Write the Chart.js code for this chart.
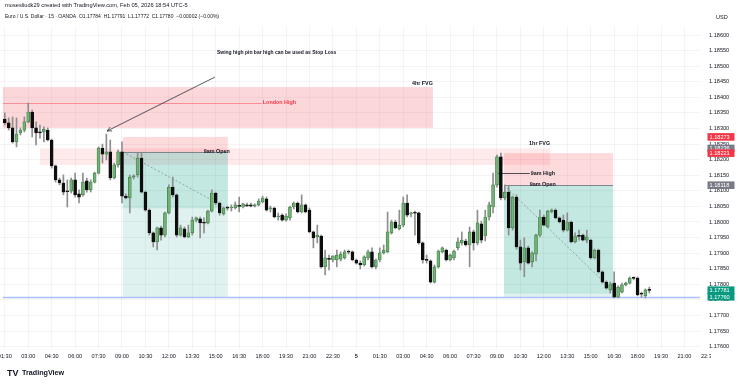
<!DOCTYPE html>
<html>
<head>
<meta charset="utf-8">
<title>EURUSD 15m</title>
<script src="https://cdn.jsdelivr.net/npm/chart.js@4.4.1/dist/chart.umd.min.js"></script>
<style>
  html, body { margin:0; padding:0; background:#fff; }
  #box { width:740px; height:386px; }
</style>
</head>
<body>
<div id="box"><canvas id="chart" width="740" height="386"></canvas></div>
<script>
/* ===== EUR/USD 15m, OANDA : Feb 04 01:30 -> Feb 05 18:45 (one entry per bar) ===== */
const OPEN = [
  1.18330,1.18318,1.18302,1.18257,1.18286,1.18295,1.18321,1.18353,1.18302,1.18289,
  1.18289,1.18295,1.18263,1.18180,1.18135,1.18125,1.18099,1.18099,1.18135,1.18090,
  1.18087,1.18132,1.18103,1.18128,1.18157,1.18237,1.18218,1.18225,1.18141,1.18183,
  1.18225,1.18083,1.18077,1.18144,1.18151,1.18205,1.18096,1.18038,1.17965,1.17936,
  1.17981,1.17958,1.18029,1.18112,1.18087,1.17958,1.17978,1.17952,1.17965,1.18006,
  1.18010,1.17997,1.17997,1.18035,1.18093,1.18061,1.18026,1.18045,1.18045,1.18045,
  1.18051,1.18048,1.18055,1.18055,1.18051,1.18055,1.18064,1.18074,1.18042,1.18045,
  1.18016,1.18022,1.18006,1.18013,1.18048,1.18061,1.18032,1.18055,1.18038,1.17968,
  1.17952,1.17955,1.17856,1.17881,1.17878,1.17878,1.17881,1.17885,1.17904,1.17904,
  1.17878,1.17868,1.17862,1.17885,1.17904,1.17856,1.17878,1.17901,1.17904,1.17965,
  1.18000,1.17978,1.17990,1.18061,1.18026,1.18029,1.18029,1.17933,1.17878,1.17875,
  1.17807,1.17856,1.17904,1.17910,1.17878,1.17885,1.17917,1.17933,1.17939,1.17926,
  1.17968,1.17933,1.17994,1.17955,1.18016,1.18048,1.18119,1.18209,1.18077,1.18096,
  1.17981,1.18080,1.17920,1.17872,1.17917,1.17872,1.17897,1.17958,1.18016,1.17984,
  1.18032,1.18038,1.18013,1.18006,1.17974,1.18000,1.17936,1.17955,1.17958,1.17942,
  1.17942,1.17885,1.17910,1.17840,1.17807,1.17782,1.17804,1.17759,1.17775,1.17798,
  1.17804,1.17820,1.17820,1.17769,1.17763,1.17784
];
const HIGH = [
  1.18350,1.18334,1.18337,1.18334,1.18302,1.18337,1.18382,1.18359,1.18321,1.18311,
  1.18305,1.18302,1.18266,1.18183,1.18141,1.18151,1.18135,1.18141,1.18157,1.18103,
  1.18157,1.18141,1.18135,1.18160,1.18241,1.18250,1.18282,1.18263,1.18189,1.18231,
  1.18257,1.18090,1.18151,1.18151,1.18221,1.18221,1.18099,1.18042,1.17968,1.17984,
  1.17987,1.18032,1.18119,1.18144,1.18090,1.17990,1.17984,1.17990,1.18016,1.18016,
  1.18016,1.18013,1.18038,1.18103,1.18096,1.18064,1.18048,1.18051,1.18055,1.18064,
  1.18080,1.18061,1.18061,1.18061,1.18058,1.18074,1.18083,1.18080,1.18051,1.18048,
  1.18029,1.18026,1.18026,1.18051,1.18064,1.18064,1.18087,1.18058,1.18045,1.17971,
  1.17990,1.17958,1.17910,1.17894,1.17891,1.17910,1.17904,1.17910,1.17910,1.17907,
  1.17881,1.17875,1.17891,1.17910,1.17917,1.17881,1.17917,1.17926,1.18032,1.18006,
  1.18006,1.18038,1.18080,1.18087,1.18032,1.18035,1.18032,1.17936,1.17894,1.17878,
  1.17862,1.17910,1.17920,1.17913,1.17897,1.17910,1.17949,1.17968,1.17945,1.17984,
  1.17974,1.18038,1.18003,1.18038,1.18064,1.18157,1.18215,1.18221,1.18119,1.18115,
  1.18083,1.18087,1.17942,1.17949,1.17923,1.17904,1.17961,1.18038,1.18022,1.18038,
  1.18042,1.18042,1.18016,1.18022,1.18029,1.18003,1.17965,1.17974,1.17961,1.17974,
  1.17945,1.17913,1.17913,1.17843,1.17811,1.17807,1.17840,1.17795,1.17804,1.17807,
  1.17824,1.17824,1.17824,1.17775,1.17785,1.17791
];
const LOW = [
  1.18311,1.18295,1.18253,1.18241,1.18279,1.18289,1.18318,1.18273,1.18247,1.18269,
  1.18257,1.18260,1.18173,1.18128,1.18119,1.18087,1.18048,1.18093,1.18080,1.18061,
  1.18083,1.18096,1.18096,1.18125,1.18154,1.18189,1.18199,1.18135,1.18138,1.18176,
  1.18061,1.18074,1.18029,1.18138,1.18144,1.18093,1.18035,1.17958,1.17920,1.17910,
  1.17942,1.17952,1.18026,1.18080,1.17952,1.17955,1.17949,1.17949,1.17958,1.18000,
  1.17949,1.17965,1.17994,1.18032,1.18055,1.18022,1.18022,1.18038,1.18035,1.18042,
  1.18032,1.18045,1.18051,1.18048,1.18048,1.18051,1.18061,1.18035,1.18032,1.18013,
  1.18006,1.18003,1.18003,1.18006,1.18042,1.18029,1.18029,1.18029,1.17965,1.17917,
  1.17933,1.17852,1.17830,1.17846,1.17872,1.17856,1.17875,1.17881,1.17897,1.17875,
  1.17865,1.17849,1.17859,1.17878,1.17852,1.17849,1.17872,1.17897,1.17901,1.17961,
  1.17978,1.17974,1.17984,1.18016,1.18016,1.17958,1.17929,1.17868,1.17868,1.17804,
  1.17804,1.17852,1.17901,1.17875,1.17875,1.17878,1.17910,1.17926,1.17923,1.17856,
  1.17910,1.17926,1.17933,1.17939,1.18006,1.18029,1.18112,1.18071,1.18071,1.17958,
  1.17974,1.17913,1.17846,1.17824,1.17865,1.17856,1.17875,1.17952,1.17987,1.17981,
  1.18029,1.18010,1.17997,1.17968,1.17971,1.17933,1.17933,1.17942,1.17939,1.17933,
  1.17881,1.17881,1.17836,1.17804,1.17785,1.17772,1.17756,1.17756,1.17772,1.17795,
  1.17801,1.17814,1.17763,1.17759,1.17756,1.17772
];
const CLOSE = [
  1.18318,1.18302,1.18257,1.18282,1.18295,1.18321,1.18353,1.18302,1.18286,1.18286,
  1.18298,1.18263,1.18180,1.18135,1.18125,1.18096,1.18097,1.18135,1.18087,1.18080,
  1.18128,1.18103,1.18128,1.18157,1.18237,1.18218,1.18225,1.18141,1.18183,1.18225,
  1.18083,1.18077,1.18144,1.18148,1.18205,1.18096,1.18038,1.17965,1.17936,1.17981,
  1.17958,1.18029,1.18112,1.18087,1.17958,1.17981,1.17952,1.17965,1.18006,1.18013,
  1.17997,1.17996,1.18035,1.18093,1.18061,1.18029,1.18045,1.18044,1.18048,1.18055,
  1.18050,1.18058,1.18051,1.18051,1.18055,1.18067,1.18077,1.18038,1.18045,1.18016,
  1.18019,1.18006,1.18019,1.18048,1.18061,1.18032,1.18055,1.18032,1.17968,1.17949,
  1.17958,1.17856,1.17885,1.17880,1.17891,1.17894,1.17897,1.17904,1.17903,1.17878,
  1.17868,1.17862,1.17888,1.17904,1.17856,1.17878,1.17901,1.17910,1.17968,1.18000,
  1.17981,1.17990,1.18061,1.18022,1.18029,1.18028,1.17933,1.17878,1.17877,1.17807,
  1.17856,1.17907,1.17917,1.17878,1.17894,1.17907,1.17936,1.17942,1.17926,1.17968,
  1.17933,1.17997,1.17942,1.18016,1.18055,1.18119,1.18209,1.18077,1.18096,1.17981,
  1.18080,1.17920,1.17868,1.17917,1.17868,1.17901,1.17958,1.18016,1.17990,1.18035,
  1.18038,1.18013,1.18000,1.17974,1.18000,1.17936,1.17955,1.17954,1.17942,1.17952,
  1.17885,1.17910,1.17840,1.17807,1.17788,1.17801,1.17759,1.17791,1.17798,1.17804,
  1.17820,1.17819,1.17766,1.17768,1.17782,1.17780
];

// time axis: one label every 6 bars (1.5 h), first label on bar 0
const TIME_LABELS = [
  "01:30","03:00","04:30","06:00","07:30","09:00","10:30","12:00","13:30","15:00",
  "16:30","18:00","19:30","21:00","22:30","5","01:30","03:00","04:30","06:00",
  "07:30","09:00","10:30","12:00","13:30","15:00","16:30","18:00","19:30","21:00","22:30"
];
const BARS_PER_LABEL = 6;
const PRICE_TICKS = [
  1.17600,1.17650,1.17700,1.17750,1.17800,1.17850,1.17900,1.17950,1.18000,1.18050,
  1.18100,1.18150,1.18200,1.18250,1.18300,1.18350,1.18400,1.18450,1.18500,1.18550,1.18600
];

/* ===== drawings (bar index / price) ===== */
const FVG_4H   = { from:-0.5, to:109.6, top:1.18433, bottom:1.18302, label:"4hr FVG" };
const FVG_1H   = { from:9.0,  to:139.6, top:1.18236, bottom:1.18183, label:"1hr FVG" };
const LONDON   = { from:-0.5, to:65.8,  price:1.18382, label:"London High" };
const NINE_HI  = { from:126,  to:134.4, price:1.18157, label:"9am High" };
const STOP_LINE = { from:-0.5, price:1.17760 };
const TRADES = [
  { from:30.2,  to:57.1,  entry:1.18225, stop:1.18273, target:1.17760, last:1.18044, dashTo:52.5,  dashPrice:1.18074, label:"9am Open", labelAt:57.6, align:"right" },
  { from:127.8, to:155.7, entry:1.18118, stop:1.18221, target:1.17760, last:1.17770, dashTo:155.5, dashPrice:1.17782, label:"9am Open", labelAt:134.4, align:"left" },
];
const NOTE = { text:"Swing high pin bar high can be used as Stop Loss", at:54.3, price:1.18545,
               arrowFrom:[53.8, 1.18465], arrowTo:[26.2, 1.18292] };
const BADGES = [
  { price:1.18273, kind:"red" }, { price:1.18236, kind:"gray" }, { price:1.18221, kind:"red" },
  { price:1.18118, kind:"gray" }, { price:1.17781, kind:"teal" }, { price:1.17760, kind:"teal" },
];

/* ===== look ===== */
const FONT = "'Liberation Sans', Arial, sans-serif";
const COL = {
  up:"#72b075", upLine:"#3d7c43", down:"#0d0d0d", wick:"#8e8e8e",
  grid:"rgba(42,46,57,0.05)", text:"#131722",
  red:"#f23645", gray:"#787b86", teal:"#089981",
};
const X_MIN = -1.23, X_MAX = 177.98;
const Y_MIN = 1.175924, Y_MAX = 1.186289;

const isUp = OPEN.map((o,i)=>CLOSE[i] >= o);
const bodies = OPEN.map((o,i)=>({ x:i, y:[o, CLOSE[i]] }));
const wicks  = LOW.map((l,i)=>({ x:i, y:[l, HIGH[i]] }));

const drawings = {
  id:"drawings",
  beforeDatasetsDraw(chart){
    const { ctx, chartArea:a, scales:{x, y} } = chart;
    const X = v=>x.getPixelForValue(v), Y = v=>y.getPixelForValue(v);
    const box = (x0,x1,p0,p1,fill)=>{ ctx.fillStyle = fill; ctx.fillRect(X(x0), Y(p0), X(x1)-X(x0), Y(p1)-Y(p0)); };
    const hline = (x0,x1,p,stroke,w,dash)=>{
      ctx.beginPath(); ctx.setLineDash(dash||[]); ctx.strokeStyle = stroke; ctx.lineWidth = w;
      ctx.moveTo(X(x0), Math.round(Y(p))+0.5); ctx.lineTo(X(x1), Math.round(Y(p))+0.5); ctx.stroke(); ctx.setLineDash([]);
    };
    ctx.save();
    ctx.beginPath(); ctx.rect(a.left, a.top, a.width, a.height); ctx.clip();

    box(FVG_4H.from, FVG_4H.to, FVG_4H.top, FVG_4H.bottom, "rgba(242,54,69,0.2)");
    box(FVG_1H.from, FVG_1H.to, FVG_1H.top, FVG_1H.bottom, "rgba(242,54,69,0.11)");

    TRADES.forEach(t=>{
      box(t.from, t.to, t.stop, t.entry, "rgba(242,54,69,0.18)");
      box(t.from, t.to, t.entry, t.target, "rgba(8,153,129,0.13)");
      box(t.from, t.to, t.entry, t.last, "rgba(8,153,129,0.13)");
      hline(t.from, t.to, t.entry, "rgba(120,123,134,0.9)", 1);
      ctx.beginPath(); ctx.setLineDash([2,2]); ctx.strokeStyle = "rgba(120,123,134,0.8)"; ctx.lineWidth = 0.8;
      ctx.moveTo(X(t.from), Y(t.entry)); ctx.lineTo(X(t.dashTo), Y(t.dashPrice)); ctx.stroke(); ctx.setLineDash([]);
    });

    hline(LONDON.from, LONDON.to, LONDON.price, "rgba(242,54,69,0.45)", 1);
    hline(NINE_HI.from, NINE_HI.to, NINE_HI.price, "rgba(19,23,34,0.75)", 1);
    hline(STOP_LINE.from, X_MAX, STOP_LINE.price, "rgba(41,98,255,0.4)", 1.5);
    ctx.restore();
  },
  afterDatasetsDraw(chart){
    const { ctx, scales:{x, y} } = chart;
    const X = v=>x.getPixelForValue(v), Y = v=>y.getPixelForValue(v);
    const label = (txt, px, py, align, color, size)=>{
      ctx.font = `bold ${size || 5.4}px ${FONT}`; ctx.fillStyle = color || COL.text;
      ctx.textAlign = align; ctx.textBaseline = "middle"; ctx.fillText(txt, px, py);
    };
    ctx.save();
    label(FVG_4H.label, X(FVG_4H.to), Y(FVG_4H.top) - 4, "right");
    label(FVG_1H.label, X(FVG_1H.to), Y(FVG_1H.top) - 5, "right");
    label(LONDON.label, X(LONDON.to) + 1, Y(LONDON.price), "left", COL.red);
    label(NINE_HI.label, X(NINE_HI.to) + 1, Y(NINE_HI.price), "left");
    TRADES.forEach(t=> label(t.label, X(t.labelAt), Y(t.entry) - 0.5, t.align));
    label(NOTE.text, X(NOTE.at), Y(NOTE.price), "left", COL.text, 5.0);

    // arrow to the pin bar high
    const [fx, fy] = [X(NOTE.arrowFrom[0]), Y(NOTE.arrowFrom[1])];
    const [tx, ty] = [X(NOTE.arrowTo[0]),   Y(NOTE.arrowTo[1])];
    ctx.strokeStyle = "#2a2e39"; ctx.lineWidth = 0.8;
    ctx.beginPath(); ctx.moveTo(fx, fy); ctx.lineTo(tx, ty); ctx.stroke();
    const ang = Math.atan2(ty - fy, tx - fx);
    ctx.beginPath();
    ctx.moveTo(tx - 5*Math.cos(ang - 0.45), ty - 5*Math.sin(ang - 0.45));
    ctx.lineTo(tx, ty);
    ctx.lineTo(tx - 5*Math.cos(ang + 0.45), ty - 5*Math.sin(ang + 0.45));
    ctx.stroke();
    ctx.restore();
  },
  afterDraw(chart){
    const { ctx, scales:{y} } = chart;
    ctx.save();
    // cut the time labels where the price scale begins
    ctx.fillStyle = "#fff"; ctx.fillRect(711, 350, 29, 16);

    // header
    ctx.fillStyle = COL.text; ctx.textAlign = "left"; ctx.textBaseline = "middle";
    ctx.font = `5.7px ${FONT}`;
    ctx.fillText("mosesliudk29 created with TradingView.com, Feb 05, 2026 18:54 UTC-5", 5, 5.5);
    ctx.font = `5.0px ${FONT}`;
    ctx.fillText("Euro / U.S. Dollar · 15 · OANDA  O1.17784  H1.17791  L1.17772  C1.17780  −0.00002 (−0.00%)", 5, 16.5);
    ctx.font = `5.6px ${FONT}`;
    ctx.fillText("USD", 716, 17.5);

    // price badges on the scale
    const fills = { red:COL.red, gray:COL.gray, teal:COL.teal };
    BADGES.forEach(b=>{
      const py = y.getPixelForValue(b.price);
      ctx.fillStyle = fills[b.kind];
      ctx.fillRect(707.5, py - 3.8, 27, 7.6);
      ctx.fillStyle = "#fff"; ctx.font = `5.6px ${FONT}`;
      ctx.fillText(b.price.toFixed(5), 709.5, py + 0.3);
    });

    // TradingView logo
    ctx.fillStyle = "#131722";
    ctx.font = `bold 9px ${FONT}`;
    ctx.fillText("TV", 7, 373.5);
    ctx.font = `bold 7.2px ${FONT}`;
    ctx.fillText("TradingView", 22, 373.5);
    ctx.restore();
  }
};

new Chart(document.getElementById("chart"), {
  type:"bar",
  data:{
    datasets:[
      { label:"body", data:bodies, grouped:false, barThickness:3, minBarLength:1,
        backgroundColor:isUp.map(u=>u ? COL.up : COL.down),
        borderColor:isUp.map(u=>u ? COL.upLine : COL.down),
        borderWidth:0.7, borderSkipped:false },
      { label:"wick", data:wicks, grouped:false, barThickness:1,
        backgroundColor:COL.wick, borderWidth:0 },
    ]
  },
  options:{
    responsive:false, animation:false,
    layout:{ padding:{ top:26, bottom:20, left:0, right:0 } },
    plugins:{ legend:{display:false}, tooltip:{enabled:false} },
    scales:{
      x:{
        type:"linear", min:X_MIN, max:X_MAX, offset:false,
        grid:{ offset:false, drawTicks:false, color:c=> (c.tick && c.tick.value > X_MAX) ? "rgba(0,0,0,0)" : COL.grid },
        border:{ display:false },
        ticks:{
          padding:4, color:COL.text, maxRotation:0, autoSkip:false,
          font:c=>({ size:5.6, family:FONT, weight:(c.tick && c.tick.label === "5") ? "bold" : "normal" }),
          callback:(v, i)=>TIME_LABELS[i],
        },
        afterBuildTicks:s=>{ s.ticks = TIME_LABELS.map((_, i)=>({ value:i*BARS_PER_LABEL })); },
        afterFit:s=>{ s.height = 17; s.paddingLeft = 0; s.paddingRight = 0; },
      },
      y:{
        type:"linear", position:"right", min:Y_MIN, max:Y_MAX,
        grid:{ drawTicks:false, color:COL.grid },
        border:{ display:false },
        ticks:{ padding:9, color:COL.text, font:{ size:5.6, family:FONT }, callback:v=>v.toFixed(5) },
        afterBuildTicks:s=>{ s.ticks = PRICE_TICKS.map(v=>({ value:v })); },
        afterFit:s=>{ s.width = 40; s.paddingTop = 0; s.paddingBottom = 0; },
      }
    }
  },
  plugins:[drawings]
});
</script>
</body>
</html>
